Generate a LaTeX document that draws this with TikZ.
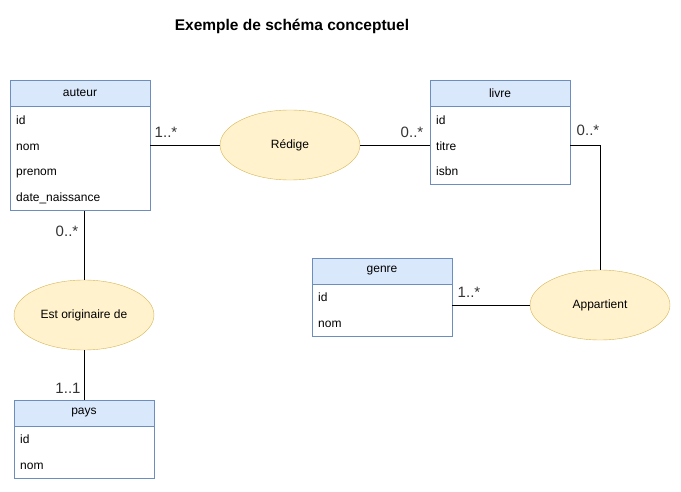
\documentclass[tikz,border=0pt]{standalone}
\usepackage{fontspec}
\setmainfont{Liberation Sans}
\usepackage{tikz}
\usetikzlibrary{shapes.geometric}
\definecolor{headfill}{HTML}{DAE8FC}
\definecolor{headline}{HTML}{6C8EBF}
\definecolor{assocfill}{HTML}{FFF2CC}
\definecolor{assocline}{HTML}{D6B656}
\definecolor{cardtext}{HTML}{333333}

\begin{document}
\begin{tikzpicture}
			[x=1pt,y=-1pt,every node/.style={font=\fontsize{12}{14}\selectfont,inner sep=0pt},
			head/.style={rectangle,draw=headline,fill=headfill,minimum width=140pt,minimum height=26pt},
			body/.style={rectangle,draw=headline,fill=white,minimum width=140pt},
			attr/.style={anchor=west,text height=8.6pt,text depth=2.6pt,yshift=-1.5pt},
			assoc/.style={ellipse,draw=assocline,fill=assocfill,minimum width=140pt,minimum height=70pt},
			card/.style={text=cardtext,font=\fontsize{15}{18}\selectfont},
			link/.style={draw=black,line width=0.9pt}]
			\useasboundingbox (0,0) rectangle (681,492);

			\node[font=\fontsize{15.5}{18}\selectfont\bfseries] (titre) at (292,26) {Exemple de schéma conceptuel};

			% entites
			\node[head] (auteur) at (80,93) {auteur};
			\node[body,minimum height=104pt,anchor=north] (auteurB) at (auteur.south) {};
			\node[head] (livre) at (500,93) {livre};
			\node[body,minimum height=78pt,anchor=north] (livreB) at (livre.south) {};
			\node[head] (genre) at (382,271) {genre};
			\node[body,minimum height=52pt,anchor=north] (genreB) at (genre.south) {};
			\node[head] (pays) at (84,413) {pays};
			\node[body,minimum height=52pt,anchor=north] (paysB) at (pays.south) {};

			\foreach \txt/\y [count=\i] in {id/120,nom/146,prenom/171,date\_naissance/197}
			\node[attr] (auteur-\i) at (16,\y) {\txt};
			\foreach \txt/\y [count=\i] in {id/120,titre/146,isbn/171}
			\node[attr] (livre-\i) at (436,\y) {\txt};
			\foreach \txt/\y [count=\i] in {id/297,nom/323}
			\node[attr] (genre-\i) at (318,\y) {\txt};
			\foreach \txt/\y [count=\i] in {id/439,nom/465}
			\node[attr] (pays-\i) at (20,\y) {\txt};

			% associations
			\node[assoc] (redige) at (290,145) {Rédige};
			\node[assoc] (appartient) at (600,305) {Appartient};
			\node[assoc] (origine) at (84,315) {Est originaire de};

			\draw[link] (redige.west) -- (redige.west -| auteurB.east);
			\draw[link] (redige.east) -- (redige.east -| livreB.west);
			\draw[link] (livreB.east |- redige.east) -| (appartient.north);
			\draw[link] (appartient.west) -- (appartient.west -| genreB.east);
			\draw[link] (origine.north) -- (origine.north |- auteurB.south);
			\draw[link] (origine.south) -- (pays.north);

			% cardinalites
			\foreach \c/\x/\y [count=\i] in {1..*/166/132,0..*/412/132,0..*/588/130,1..*/469/292,0..*/67/231,1..1/68/388}
			\node[card] (card-\i) at (\x,\y) {\c};

			\end{tikzpicture}
\end{document}
